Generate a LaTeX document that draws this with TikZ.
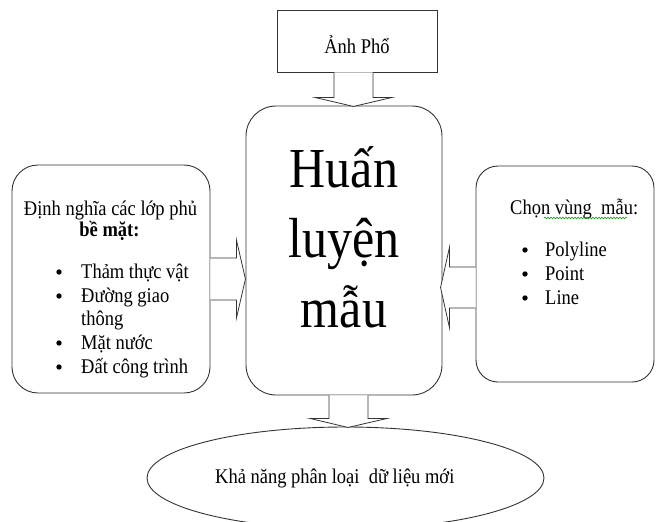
\documentclass[tikz,border=0pt]{standalone}
\usepackage{fontspec}
\setmainfont{Liberation Serif}
\usetikzlibrary{calc,shapes.geometric,decorations.pathmorphing}
\newcommand\vst[1]{\scalebox{1}[1.13]{#1}}
\tikzset{
  box/.style={draw=black!80, line width=0.9pt, fill=white, inner sep=0pt},
  blockarrow/.style={draw=black!80, line width=0.8pt, fill=white, line join=miter},
  txt/.style={inner sep=0pt, font=\fontsize{18.5}{22}\selectfont},
  bigtxt/.style={inner sep=0pt, font=\fontsize{50}{60}\selectfont},
  bul/.style={circle, fill=black, inner sep=0pt, minimum size=5.4pt},
  squiggle/.style={draw=green!55!black, line width=0.5pt,
    decorate, decoration={snake, amplitude=0.9pt, segment length=3pt}}
}
\begin{document}
\begin{tikzpicture}[x=1pt,y=-1pt]
\clip (0,0) rectangle (656,522);
\fill[white] (0,0) rectangle (656,522);

% boxes
\node[box, rectangle, minimum width=160pt, minimum height=62pt] (top) at (357,41) {};
\node[box, rectangle, rounded corners=30pt, minimum width=196pt, minimum height=289pt] (center) at (344,250.5) {};
\node[box, rectangle, rounded corners=26pt, minimum width=198pt, minimum height=228pt] (left) at (111,279) {};
\node[box, rectangle, rounded corners=22pt, minimum width=178pt, minimum height=216pt] (right) at (565,274) {};
\node[box, ellipse, minimum width=397pt, minimum height=102pt] (result) at (345.5,478) {};

% block arrows
\draw[blockarrow] ($(top.south)+(-23,0)$) -- ($(top.south)+(-23,25)$) -- ($(top.south)+(-42,25)$)
  -- ($(top.south)+(-3.5,34)$) -- ($(top.south)+(35,25)$) -- ($(top.south)+(16,25)$) -- ($(top.south)+(16,0)$);
\draw[blockarrow] ($(left.east)+(0,-21)$) -- ($(left.east)+(26,-21)$) -- ($(left.east)+(26,-39)$)
  -- ($(left.east)+(35,0)$) -- ($(left.east)+(26,39)$) -- ($(left.east)+(26,21)$) -- ($(left.east)+(0,21)$);
\draw[blockarrow] ($(right.west)+(0,-7)$) -- ($(right.west)+(-26,-7)$) -- ($(right.west)+(-26,-27)$)
  -- ($(right.west)+(-35,13.5)$) -- ($(right.west)+(-26,54)$) -- ($(right.west)+(-26,34)$) -- ($(right.west)+(0,34)$);
\draw[blockarrow] ($(center.south)+(-15,0)$) -- ($(center.south)+(-15,23)$) -- ($(center.south)+(-34,23)$)
  -- ($(center.south)+(4,32)$) -- ($(center.south)+(43,23)$) -- ($(center.south)+(24,23)$) -- ($(center.south)+(24,0)$);

% top text
\node[txt, anchor=base] (ttop) at (357,53) {\vst{Ảnh Phổ}};

% center text
\node[bigtxt, anchor=base] (c1) at (344,187) {\vst{Huấn}};
\node[bigtxt, anchor=base] (c2) at (344,257) {\vst{luyện}};
\node[bigtxt, anchor=base] (c3) at (344,327) {\vst{mẫu}};

% left text
\node[txt, anchor=base] (l0) at (110.5,215) {\vst{Định nghĩa các lớp phủ}};
\node[txt, anchor=base] (l00) at (109.5,236) {\vst{\bfseries bề mặt:}};
\node[bul] (lb1) at (59,272) {};
\node[txt, anchor=base west] (l1) at (81,278) {\vst{Thảm thực vật}};
\node[bul] (lb2) at (59,296) {};
\node[txt, anchor=base west] (l2) at (81,302) {\vst{Đường giao}};
\node[txt, anchor=base west] (l2b) at (81,325) {\vst{thông}};
\node[bul] (lb3) at (59,343) {};
\node[txt, anchor=base west] (l3) at (81,349) {\vst{Mặt nước}};
\node[bul] (lb4) at (59,367) {};
\node[txt, anchor=base west] (l4) at (81,373) {\vst{Đất công trình}};

% right text
\node[txt, anchor=base west] (r0) at (510,214) {\vst{Chọn vùng\ \ mẫu:}};
\draw[squiggle] (544,218) -- (627,218);
\node[bul] (rb1) at (525,250) {};
\node[txt, anchor=base west] (r1) at (545,256) {\vst{Polyline}};
\node[bul] (rb2) at (525,274) {};
\node[txt, anchor=base west] (r2) at (545,280) {\vst{Point}};
\node[bul] (rb3) at (525,298) {};
\node[txt, anchor=base west] (r3) at (545,304) {\vst{Line}};

% ellipse text
\node[txt, anchor=base west] (e1) at (215,483) {\vst{Khả năng phân loại\ \ dữ liệu mới}};
\end{tikzpicture}
\end{document}
